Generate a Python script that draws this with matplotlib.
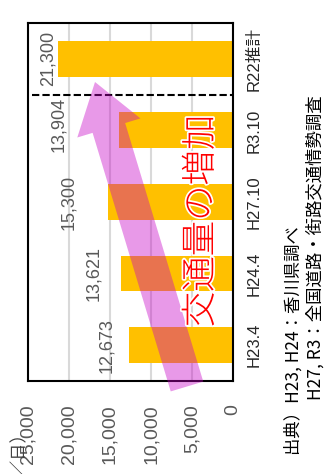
import matplotlib
matplotlib.use('Agg')
import matplotlib.pyplot as plt
from matplotlib.patches import FancyArrow
import matplotlib.patheffects as pe

plt.rcParams['font.family'] = ['Liberation Sans', 'Noto Sans CJK JP', 'DejaVu Sans']

categories = ['H23.4', 'H24.4', 'H27.10', 'R3.10', 'R22推計']
values = [12673, 13621, 15300, 13904, 21300]
x_ticks = [0, 5000, 10000, 15000, 20000, 25000]
axis_unit = '（台／日）'
callout = '交通量の増加'
source_1 = '出典）H23, H24：香川県調べ'
source_2 = 'H27, R3：全国道路・街路交通情勢調査'

# placement of value labels (data units along value axis)
label_pos = [15400, 16950, 20100, 21300, 22600]
label_shift = [0, 0, 0, 0.08, 0]

W, H = 334, 474
fig = plt.figure(figsize=(W / 100, H / 100), dpi=100)
ax = fig.add_axes([28 / W, 1 - 381 / H, 205 / W, 358 / H])

ypos = list(range(len(categories)))
ax.barh(ypos, values, height=0.5, color='#FFC000', zorder=2)
ax.set_xlim(25000, 0)
ax.set_ylim(-0.5, len(categories) - 0.5)
ax.set_xticks(x_ticks)
ax.set_xticklabels([f'{v:,}' for v in x_ticks], rotation=90)
ax.xaxis.grid(True, color='#D9D9D9', lw=1.5)
ax.set_axisbelow(True)
ax.yaxis.tick_right()
ax.set_yticks(ypos)
ax.set_yticklabels(categories, rotation=90, va='center')
ax.tick_params(axis='x', length=0, pad=17, labelsize=14, labelcolor='#595959')
ax.tick_params(axis='y', length=0, pad=10, labelsize=12, labelcolor='#262626')
for s in ax.spines.values():
    s.set_linewidth(1.5)
    s.set_color('black')
    s.set_zorder(4)

ax.axhline(3.5, xmin=0.02, color='black', lw=1.5, ls=(0, (3.5, 1.5)), zorder=3)

for i, (v, lx, sh) in enumerate(zip(values, label_pos, label_shift)):
    ax.text(lx, i + sh, f'{v:,}', rotation=90, ha='center', va='center',
            color='#595959', fontsize=13, zorder=5)

fig.text(8 / W, 1 - 412 / H, axis_unit, rotation=90, ha='center', va='top',
         fontsize=12.5, color='#404040', family=['Noto Sans CJK JP'])

fig.text(293 / W, 1 - 455 / H, source_1, rotation=90, ha='center', va='bottom',
         fontsize=12.5, color='black', family=['Noto Sans CJK JP'])
fig.text(315 / W, 1 - 400 / H, source_2, rotation=90, ha='center', va='bottom',
         fontsize=12.5, color='black', family=['Noto Sans CJK JP'])

ov = fig.add_axes([0, 0, 1, 1])
ov.set_xlim(0, W)
ov.set_ylim(H, 0)
ov.axis('off')
ov.patch.set_alpha(0)
arrow = FancyArrow(187, 386.5, -92, -304.5, width=34, head_width=66, head_length=48,
                   length_includes_head=True, color=(0.78, 0, 0.78), alpha=0.4, lw=0)
ov.add_patch(arrow)
ov.text(201, 221, callout, rotation=90, ha='center', va='center', color='red',
        fontsize=25.5, family=['Noto Sans CJK JP'], fontweight='light',
        path_effects=[pe.withStroke(linewidth=2.5, foreground='white')])

fig.savefig('out.png', dpi=100)
